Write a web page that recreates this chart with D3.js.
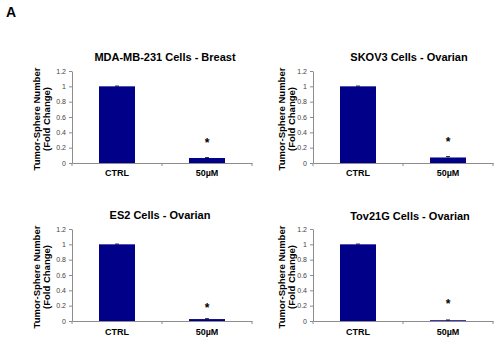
<!DOCTYPE html>
<html><head><meta charset="utf-8">
<script src="https://cdn.jsdelivr.net/npm/d3@7"></script>
<style>
body{margin:0;background:#fff;}
svg{display:block;font-family:"Liberation Sans",Arial,sans-serif;}
</style></head>
<body>
<svg id="c" width="500" height="342"></svg>
<script>
// ---- data ----
const titles = ["MDA-MB-231 Cells - Breast", "SKOV3 Cells - Ovarian", "ES2 Cells - Ovarian", "Tov21G Cells - Ovarian"];
const categories = ["CTRL", "50\u00b5M"];
const ctrlValues = [1, 1, 1, 1];
const ctrlErrors = [0.004, 0.004, 0.004, 0.004];
const treatedValues = [0.065, 0.072, 0.025, 0.01];
const treatedErrors = [0.006, 0.012, 0.006, 0.004];
const significant = [true, true, true, true];
const yTicks = [0, 0.2, 0.4, 0.6, 0.8, 1, 1.2];
const yLabelLines = ["Tumor-Sphere Number", "(Fold Change)"];
const panelLetter = "A";

// ---- layout ----
const panels = [
  {x0: 72, x1: 252, yTop: 71, yBot: 163, titleX: 165, titleY: 61, labX: 37, catY: 176, starDy: 19},
  {x0: 313, x1: 493, yTop: 71, yBot: 163, titleX: 409, titleY: 61, labX: 282, catY: 176, starDy: 19},
  {x0: 72, x1: 252, yTop: 229, yBot: 321, titleX: 160, titleY: 219, labX: 37, catY: 335, starDy: 15},
  {x0: 313, x1: 493, yTop: 229, yBot: 321, titleX: 410, titleY: 220, labX: 282, catY: 335, starDy: 20}
];
const barColor = "#000088";
const axisColor = "#8c8c8c";

const svg = d3.select("#c");
svg.append("text").attr("x", 6).attr("y", 17).attr("font-size", 14).attr("font-weight", "bold").text(panelLetter);

panels.forEach((p, i) => {
  const g = svg.append("g");
  const x = d3.scaleBand().domain(categories).range([p.x0, p.x1]).paddingInner(0.6).paddingOuter(0.3);
  const y = d3.scaleLinear().domain([0, 1.2]).range([p.yBot, p.yTop]);
  const data = [
    {cat: categories[0], v: ctrlValues[i], e: ctrlErrors[i]},
    {cat: categories[1], v: treatedValues[i], e: treatedErrors[i]}
  ];

  // y axis
  const ya = g.append("g").attr("transform", `translate(${p.x0},0)`)
    .call(d3.axisLeft(y).tickValues(yTicks).tickSize(3).tickSizeOuter(0).tickFormat(d3.format("")));
  ya.select(".domain").attr("stroke", axisColor);
  ya.selectAll(".tick line").attr("stroke", axisColor);
  ya.selectAll(".tick text").attr("font-size", 7).attr("fill", "#444").attr("x", -6);

  // x axis line and category-separator ticks
  const xa = g.append("g").attr("transform", `translate(0,${p.yBot})`)
    .call(d3.axisBottom(x).tickSize(0).tickSizeOuter(0));
  xa.select(".domain").attr("stroke", axisColor);
  xa.selectAll(".tick text").attr("font-size", 9).attr("font-weight", "bold").attr("fill", "#000")
    .attr("y", 0).attr("dy", 0).attr("transform", `translate(0,${p.catY - p.yBot})`);
  const seps = [p.x0, (x(categories[0]) + x.bandwidth() + x(categories[1])) / 2, p.x1];
  g.selectAll(".sep").data(seps).enter().append("line")
    .attr("x1", d => d).attr("x2", d => d).attr("y1", p.yBot).attr("y2", p.yBot + 3)
    .attr("stroke", axisColor);

  // bars
  g.selectAll(".bar").data(data).enter().append("rect")
    .attr("x", d => x(d.cat)).attr("width", x.bandwidth())
    .attr("y", d => y(d.v)).attr("height", d => Math.max(0.8, y(0) - y(d.v)))
    .attr("fill", barColor);

  // error bars
  data.forEach(d => {
    const cx = x(d.cat) + x.bandwidth() / 2;
    g.append("line").attr("x1", cx).attr("x2", cx).attr("y1", y(d.v + d.e)).attr("y2", y(d.v)).attr("stroke", "#000").attr("stroke-width", 0.8);
    g.append("line").attr("x1", cx - 2).attr("x2", cx + 2).attr("y1", y(d.v + d.e)).attr("y2", y(d.v + d.e)).attr("stroke", "#000").attr("stroke-width", 0.8);
  });

  // significance
  if (significant[i]) {
    const d = data[1];
    g.append("text").attr("x", x(d.cat) + x.bandwidth() / 2).attr("y", y(d.v + d.e) - p.starDy + 8)
      .attr("text-anchor", "middle").attr("font-size", 12).attr("font-weight", "bold").text("*");
  }

  // title
  g.append("text").attr("x", p.titleX).attr("y", p.titleY).attr("text-anchor", "middle")
    .attr("font-size", 11).attr("font-weight", "bold").text(titles[i]);

  // y label
  const cy = (p.yTop + p.yBot) / 2 + 2;
  yLabelLines.forEach((t, k) => {
    g.append("text").attr("transform", `translate(${p.labX + k * 10 + 3},${cy}) rotate(-90)`)
      .attr("text-anchor", "middle").attr("font-size", 9.5).attr("font-weight", "bold").text(t);
  });
});
</script>
</body></html>
